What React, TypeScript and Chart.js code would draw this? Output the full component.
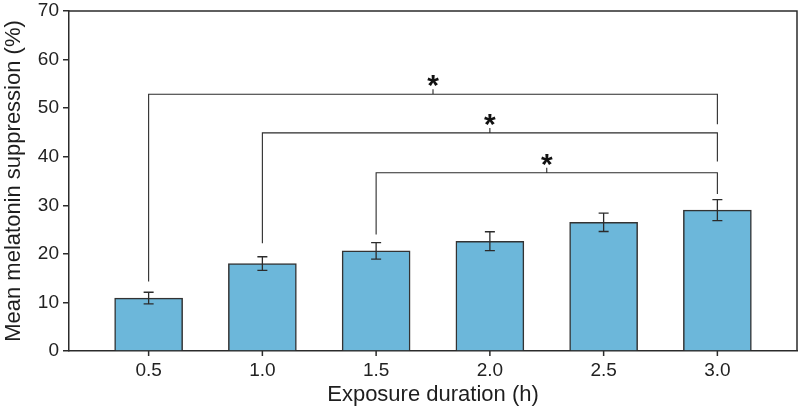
import React, { useEffect, useRef } from "react";
import { Chart, registerables } from "chart.js";

Chart.register(...registerables);

const durations = [0.5, 1.0, 1.5, 2.0, 2.5, 3.0];
const suppression = [10.9, 18.0, 20.6, 22.6, 26.5, 29.0];
const errors = [1.2, 1.4, 1.7, 1.95, 1.9, 2.15];
const yTicks = [0, 10, 20, 30, 40, 50, 60, 70];
const xTicks = [0.5, 1.0, 1.5, 2.0, 2.5, 3.0];

const bracketFrom = [0.5, 1.0, 1.5];
const bracketTo = [3.0, 3.0, 3.0];
const bracketY = [52.85, 44.9, 36.7];
const bracketLeftEnd = [14.3, 22.2, 24.0];
const bracketRightEnd = [46.7, 39.0, 32.3];
const starX = [1.75, 2.0, 2.25];
const starLabel = ["*", "*", "*"];

const xTitle = "Exposure duration (h)";
const yTitle = "Mean melatonin suppression (%)";

const FONT = "'Liberation Sans', Arial, sans-serif";
const INK = "#2b2b2b";

const overlay = {
  id: "overlay",
  afterDatasetsDraw(chart: any) {
    const ctx = chart.ctx;
    const xs = chart.scales.x;
    const ys = chart.scales.y;
    const area = chart.chartArea;
    ctx.save();
    // top & right frame
    ctx.strokeStyle = INK;
    ctx.lineWidth = 1.5;
    ctx.beginPath();
    ctx.moveTo(area.left, area.top);
    ctx.lineTo(area.right, area.top);
    ctx.lineTo(area.right, area.bottom);
    ctx.stroke();

    // x tick marks
    xTicks.forEach((v) => {
      const px = xs.getPixelForValue(v);
      ctx.beginPath();
      ctx.moveTo(px, area.bottom);
      ctx.lineTo(px, area.bottom + 5);
      ctx.stroke();
    });

    // error bars
    ctx.lineWidth = 1.3;
    durations.forEach((d, i) => {
      const px = xs.getPixelForValue(d);
      const hi = ys.getPixelForValue(suppression[i] + errors[i]);
      const lo = ys.getPixelForValue(suppression[i] - errors[i]);
      ctx.beginPath();
      ctx.moveTo(px, hi);
      ctx.lineTo(px, lo);
      ctx.moveTo(px - 5, hi);
      ctx.lineTo(px + 5, hi);
      ctx.moveTo(px - 5, lo);
      ctx.lineTo(px + 5, lo);
      ctx.stroke();
    });

    // significance brackets
    ctx.lineWidth = 1.1;
    bracketFrom.forEach((f, i) => {
      const x1 = xs.getPixelForValue(f);
      const x2 = xs.getPixelForValue(bracketTo[i]);
      const yb = ys.getPixelForValue(bracketY[i]);
      const yl = ys.getPixelForValue(bracketLeftEnd[i]);
      const yr = ys.getPixelForValue(bracketRightEnd[i]);
      const sx = xs.getPixelForValue(starX[i]);
      ctx.beginPath();
      ctx.moveTo(x1, yl);
      ctx.lineTo(x1, yb);
      ctx.lineTo(x2, yb);
      ctx.lineTo(x2, yr);
      ctx.moveTo(sx, yb);
      ctx.lineTo(sx, yb - 5);
      ctx.stroke();
      ctx.fillStyle = "#111";
      ctx.font = `bold 30px ${FONT}`;
      ctx.textAlign = "center";
      ctx.textBaseline = "alphabetic";
      ctx.fillText(starLabel[i], sx, yb + 1);
    });

    // axis titles
    ctx.fillStyle = "#1e1e1e";
    ctx.font = `22px ${FONT}`;
    ctx.textAlign = "center";
    ctx.textBaseline = "alphabetic";
    ctx.fillText(xTitle, (area.left + area.right) / 2, 401);
    ctx.translate(20, (area.top + area.bottom) / 2);
    ctx.rotate(-Math.PI / 2);
    ctx.fillText(yTitle, 0, 0);
    ctx.restore();
  },
};

export default function App() {
  const ref = useRef<HTMLCanvasElement | null>(null);
  useEffect(() => {
    if (!ref.current) return;
    const chart = new Chart(ref.current, {
      type: "bar",
      data: {
        datasets: [
          {
            data: durations.map((d, i) => ({ x: d, y: suppression[i] })),
            backgroundColor: "#6cb7da",
            borderColor: "#333333",
            borderWidth: 1.5,
            barThickness: 68,
          },
        ],
      },
      options: {
        responsive: false,
        animation: false,
        events: [],
        layout: { padding: { left: 0, right: 3, top: 11, bottom: 0 } },
        plugins: { legend: { display: false }, tooltip: { enabled: false } },
        scales: {
          x: {
            type: "linear",
            min: 0.15,
            max: 3.35,
            offset: false,
            afterBuildTicks: (s: any) => {
              s.ticks = xTicks.map((v) => ({ value: v }));
            },
            afterFit: (s: any) => {
              s.height = 59;
              s.paddingLeft = 0;
              s.paddingRight = 0;
            },
            ticks: {
              color: "#222",
              font: { family: FONT, size: 19 },
              padding: 8,
              maxRotation: 0,
              autoSkip: false,
              callback: (v: any) => Number(v).toFixed(1),
            },
            grid: {
              display: false,
              drawTicks: false,
            },
            border: { display: true, color: INK, width: 1.5 },
          },
          y: {
            min: 0,
            max: 70,
            afterBuildTicks: (s: any) => {
              s.ticks = yTicks.map((v) => ({ value: v }));
            },
            afterFit: (s: any) => {
              s.width = 69;
              s.paddingTop = 0;
              s.paddingBottom = 0;
            },
            ticks: {
              color: "#222",
              font: { family: FONT, size: 19 },
              padding: 4,
            },
            grid: {
              display: true,
              drawOnChartArea: false,
              drawTicks: true,
              tickLength: 6,
              color: INK,
              lineWidth: 1.5,
            },
            border: { display: true, color: INK, width: 1.5 },
          },
        },
      },
      plugins: [overlay],
    });
    return () => chart.destroy();
  }, []);
  return (
    <div style={{ position: "fixed", left: 0, top: 0, width: 800, height: 410, background: "#fff" }}>
      <canvas ref={ref} width={800} height={410} />
    </div>
  );
}
